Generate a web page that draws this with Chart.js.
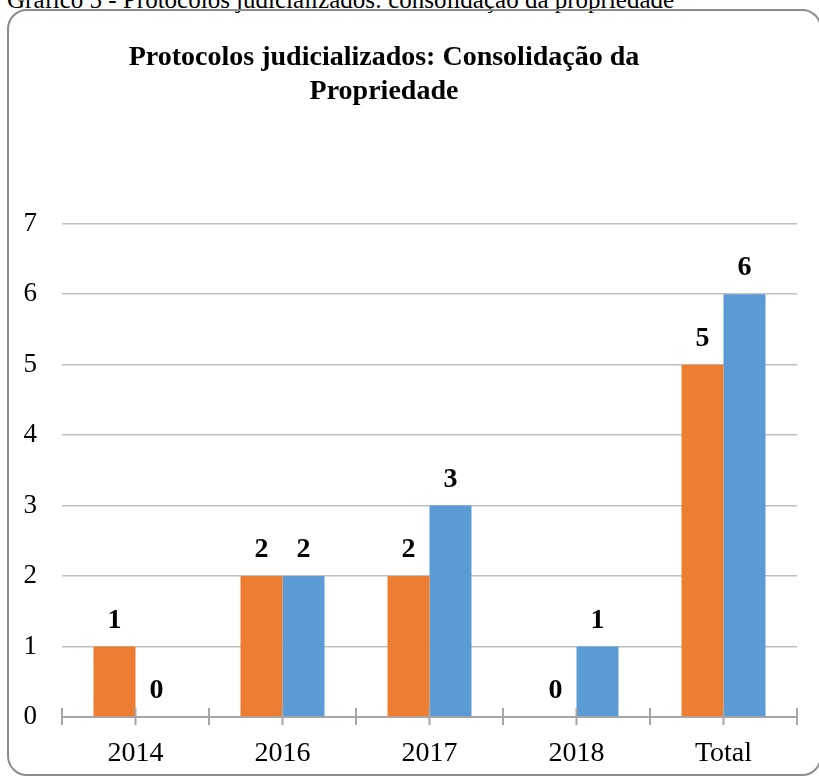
<!DOCTYPE html>
<html lang="pt">
<head>
<meta charset="utf-8">
<title>Protocolos judicializados: Consolidação da Propriedade</title>
<script src="https://cdn.jsdelivr.net/npm/chart.js@4.4.1/dist/chart.umd.min.js"></script>
<style>
    html, body {
        margin: 0;
        padding: 0;
        width: 819px;
        height: 777px;
        overflow: hidden;
        background: #ffffff;
        font-family: 'Liberation Serif', 'Times New Roman', serif;
    }
    .caption {
        position: absolute;
        left: 7px;
        top: -13px;
        font-size: 25px;
        line-height: 1;
        color: #000;
        white-space: nowrap;
    }
    .frame {
        position: absolute;
        left: 7px;
        top: 9px;
        width: 815px;
        height: 767px;
        box-sizing: border-box;
        border: 2px solid #8c8c8c;
        border-radius: 20px;
    }
    #protocolChart {
        position: absolute;
        left: -29px;
        top: 0;
    }
</style>
</head>
<body>
<div class="caption">Gráfico 5 - Protocolos judicializados: consolidação da propriedade</div>
<div class="frame"></div>
<canvas id="protocolChart" width="848" height="777"></canvas>

<script>
// --- Chart data ---
const categories = ['2014', '2016', '2017', '2018', 'Total'];
const seriesOrange = [1, 2, 2, 0, 5];
const seriesBlue = [0, 2, 3, 1, 6];
const yTicks = [0, 1, 2, 3, 4, 5, 6, 7];

const SERIF = "'Liberation Serif', 'Times New Roman', serif";

document.addEventListener('DOMContentLoaded', () => {
    initProtocolChart();
});

// Value labels above each bar (no datalabels plugin available)
const barValueLabels = {
    id: 'barValueLabels',
    afterDatasetsDraw(chart) {
        const ctx = chart.ctx;
        ctx.save();
        ctx.font = 'bold 28px ' + SERIF;
        ctx.fillStyle = '#000000';
        ctx.textAlign = 'center';
        ctx.textBaseline = 'middle';
        chart.data.datasets.forEach((ds, i) => {
            const meta = chart.getDatasetMeta(i);
            meta.data.forEach((bar, j) => {
                ctx.fillText(String(ds.data[j]), bar.x, bar.y - 26);
            });
        });
        ctx.restore();
    }
};

// Excel style tick marks crossing the axis, at category edges and centres
const crossTicks = {
    id: 'crossTicks',
    afterDatasetsDraw(chart) {
        const x = chart.scales.x;
        const ctx = chart.ctx;
        const half = (x.getPixelForValue(1) - x.getPixelForValue(0)) / 2;
        const y = x.top;
        ctx.save();
        ctx.strokeStyle = '#a6a6a6';
        ctx.lineWidth = 2;
        ctx.beginPath();
        categories.forEach((c, i) => {
            const cx = x.getPixelForValue(i);
            [cx - half, cx].forEach(px => {
                ctx.moveTo(px, y - 9);
                ctx.lineTo(px, y + 8);
            });
        });
        const last = x.getPixelForValue(categories.length - 1) + half;
        ctx.moveTo(last, y - 9);
        ctx.lineTo(last, y + 8);
        ctx.stroke();
        ctx.restore();
    }
};

function initProtocolChart() {
    const ctx = document.getElementById('protocolChart').getContext('2d');

    new Chart(ctx, {
        type: 'bar',
        data: {
            labels: categories,
            datasets: [{
                label: 'Série 1',
                data: seriesOrange,
                backgroundColor: '#ed7d31',
                borderWidth: 0
            }, {
                label: 'Série 2',
                data: seriesBlue,
                backgroundColor: '#5b9bd5',
                borderWidth: 0
            }]
        },
        options: {
            responsive: false,
            animation: false,
            devicePixelRatio: 1,
            categoryPercentage: 0.5714,
            barPercentage: 1,
            layout: {
                padding: { left: 0, right: 22, top: 0, bottom: 0 }
            },
            plugins: {
                legend: { display: false },
                tooltip: { enabled: false },
                title: {
                    display: true,
                    text: ['Protocolos judicializados: Consolidação da', 'Propriedade'],
                    color: '#000000',
                    font: { family: SERIF, size: 28, weight: 'bold', lineHeight: 1.21 },
                    padding: { top: 41, bottom: 115 }
                }
            },
            scales: {
                x: {
                    grid: { display: false },
                    border: { display: true, color: '#a6a6a6', width: 2 },
                    ticks: {
                        color: '#000000',
                        padding: 12,
                        font: { family: SERIF, size: 28 }
                    },
                    afterFit(scale) {
                        scale.height = 60;
                    }
                },
                y: {
                    min: yTicks[0],
                    max: yTicks[yTicks.length - 1],
                    afterBuildTicks(scale) {
                        scale.ticks = yTicks.map(v => ({ value: v }));
                    },
                    grid: {
                        color: '#bfbfbf',
                        lineWidth: 1.5,
                        drawTicks: false
                    },
                    border: { display: false },
                    ticks: {
                        color: '#000000',
                        padding: 25,
                        font: { family: SERIF, size: 27 }
                    },
                    afterFit(scale) {
                        scale.width = 91;
                    }
                }
            }
        },
        plugins: [barValueLabels, crossTicks]
    });
}
</script>
</body>
</html>
